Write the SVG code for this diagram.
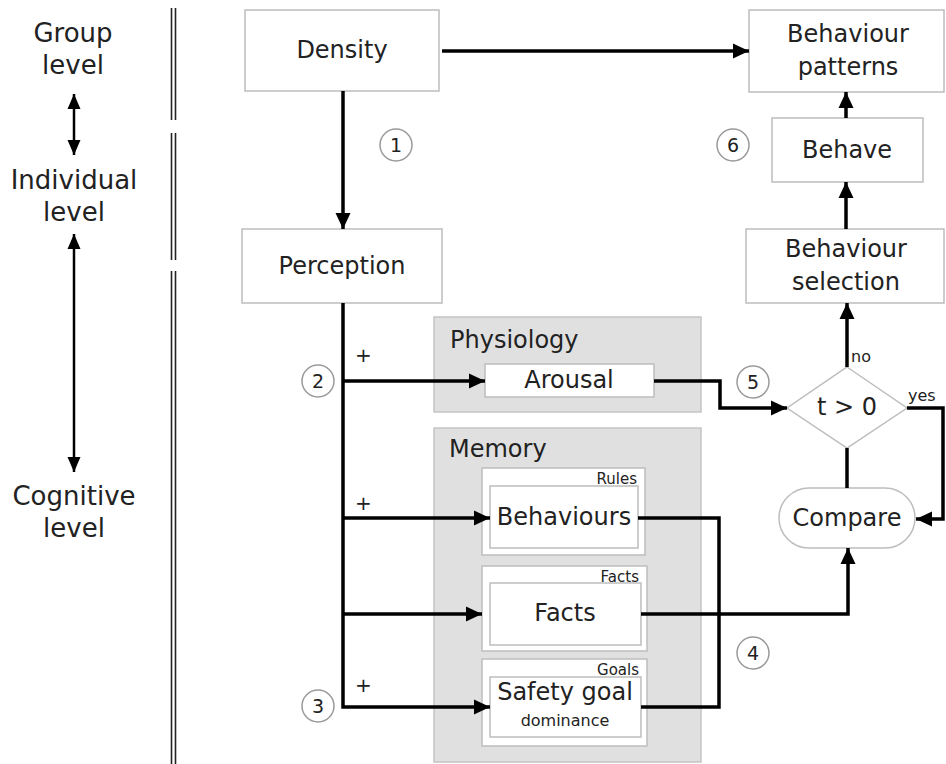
<svg xmlns="http://www.w3.org/2000/svg" width="946" height="764" viewBox="0 0 946 764">
  <style>
    text { font-family: "DejaVu Sans", "Liberation Sans", sans-serif; fill: #222; }
    .lvl { font-size: 26px; text-anchor: middle; }
    .lbl { font-size: 24px; text-anchor: middle; dominant-baseline: central; }
    .small { font-size: 15px; text-anchor: end; }
    .tiny { font-size: 16px; }
    .num { font-size: 19px; text-anchor: middle; dominant-baseline: central; }
    .box { fill: #fff; stroke: #bdbdbd; stroke-width: 1.5; }
    .panel { fill: #e0e0e0; stroke: #c4c4c4; stroke-width: 1.5; }
    .circ { fill: #fff; stroke: #9a9a9a; stroke-width: 1.5; }
    .wire { fill: none; stroke: #000; stroke-width: 3.5; }
    .thin { fill: none; stroke: #000; stroke-width: 2.5; }
    .sep { stroke: #222; stroke-width: 1.6; }
  </style>
  <defs>
    <marker id="arrow" markerUnits="userSpaceOnUse" markerWidth="18" markerHeight="18" refX="16" refY="8.5" orient="auto-start-reverse">
      <path d="M0,1 L16,8.5 L0,16 z" fill="#000"/>
    </marker>
    <marker id="arrowS" markerUnits="userSpaceOnUse" markerWidth="16" markerHeight="16" refX="15" refY="7" orient="auto-start-reverse">
      <path d="M0,0.5 L15,7 L0,13.5 z" fill="#000"/>
    </marker>
  </defs>

  <!-- level scale on the left -->
  <g id="levels">
    <text class="lvl" x="73" y="42">Group</text>
    <text class="lvl" x="73" y="74">level</text>
    <text class="lvl" x="74" y="189">Individual</text>
    <text class="lvl" x="74" y="221">level</text>
    <text class="lvl" x="74" y="505">Cognitive</text>
    <text class="lvl" x="74" y="537">level</text>
    <line class="thin" x1="74" y1="94" x2="74" y2="155" marker-start="url(#arrowS)" marker-end="url(#arrowS)"/>
    <line class="thin" x1="74" y1="234" x2="74" y2="472" marker-start="url(#arrowS)" marker-end="url(#arrowS)"/>
  </g>

  <!-- double separator rule -->
  <g id="separator">
    <line class="sep" x1="171.5" y1="8" x2="171.5" y2="120"/>
    <line class="sep" x1="175.5" y1="8" x2="175.5" y2="120"/>
    <line class="sep" x1="171.5" y1="133" x2="171.5" y2="260"/>
    <line class="sep" x1="175.5" y1="133" x2="175.5" y2="260"/>
    <line class="sep" x1="171.5" y1="271" x2="171.5" y2="764"/>
    <line class="sep" x1="175.5" y1="271" x2="175.5" y2="764"/>
  </g>

  <!-- grey panels -->
  <g id="physiology">
    <rect class="panel" x="434" y="317" width="267" height="95"/>
    <text x="450" y="348" style="font-size:24px">Physiology</text>
  </g>
  <g id="memory">
    <rect class="panel" x="434" y="428" width="267" height="334"/>
    <text x="449" y="457" style="font-size:24px">Memory</text>
  </g>

  <!-- nodes -->
  <g id="density">
    <rect class="box" x="245" y="10" width="194" height="81"/>
    <text class="lbl" x="342" y="50">Density</text>
  </g>
  <g id="perception">
    <rect class="box" x="242" y="229" width="200" height="74"/>
    <text class="lbl" x="342" y="266">Perception</text>
  </g>
  <g id="behaviour-patterns">
    <rect class="box" x="749" y="10" width="195" height="82"/>
    <text class="lbl" x="848" y="34">Behaviour</text>
    <text class="lbl" x="848" y="67">patterns</text>
  </g>
  <g id="behave">
    <rect class="box" x="772" y="118" width="151" height="64"/>
    <text class="lbl" x="847" y="150">Behave</text>
  </g>
  <g id="behaviour-selection">
    <rect class="box" x="746" y="229" width="198" height="74"/>
    <text class="lbl" x="846" y="249">Behaviour</text>
    <text class="lbl" x="846" y="282">selection</text>
  </g>
  <g id="arousal">
    <rect class="box" x="485" y="364" width="169" height="33"/>
    <text class="lbl" x="569" y="380">Arousal</text>
  </g>
  <g id="rules">
    <rect class="box" x="482" y="468" width="163" height="87"/>
    <text class="small" x="637" y="484">Rules</text>
    <rect class="box" x="490" y="486" width="148" height="62"/>
    <text class="lbl" x="564" y="517">Behaviours</text>
  </g>
  <g id="facts">
    <rect class="box" x="482" y="566" width="165" height="85"/>
    <text class="small" x="639" y="582">Facts</text>
    <rect class="box" x="490" y="583" width="151" height="62"/>
    <text class="lbl" x="565" y="613">Facts</text>
  </g>
  <g id="goals">
    <rect class="box" x="482" y="659" width="165" height="87"/>
    <text class="small" x="639" y="675">Goals</text>
    <rect class="box" x="490" y="677" width="151" height="60"/>
    <text class="lbl" x="565" y="692">Safety goal</text>
    <text class="lbl" x="565" y="720" style="font-size:16px">dominance</text>
  </g>
  <g id="decision">
    <polygon class="box" points="847,367 907,408 847,448 787,408"/>
    <text class="lbl" x="847" y="407">t &gt; 0</text>
  </g>
  <g id="compare">
    <rect class="box" x="779" y="488" width="136" height="60" rx="30" ry="30"/>
    <text class="lbl" x="847" y="518">Compare</text>
  </g>

  <!-- numbered step markers -->
  <g id="step-1"><circle class="circ" cx="396" cy="145" r="16"/><text class="num" x="396" y="145">1</text></g>
  <g id="step-2"><circle class="circ" cx="318" cy="381" r="16"/><text class="num" x="318" y="381">2</text></g>
  <g id="step-3"><circle class="circ" cx="318" cy="706" r="16"/><text class="num" x="318" y="706">3</text></g>
  <g id="step-4"><circle class="circ" cx="753" cy="653" r="16"/><text class="num" x="753" y="653">4</text></g>
  <g id="step-5"><circle class="circ" cx="753" cy="382" r="16"/><text class="num" x="753" y="382">5</text></g>
  <g id="step-6"><circle class="circ" cx="733" cy="145" r="16"/><text class="num" x="733" y="145">6</text></g>

  <!-- connectors -->
  <g id="connectors">
    <path class="wire" d="M442,51 H749" marker-end="url(#arrow)"/>
    <path class="wire" d="M343,91 V229" marker-end="url(#arrow)"/>
    <path class="wire" d="M343,303 V707 H490" marker-end="url(#arrow)"/>
    <path class="wire" d="M343,381 H485" marker-end="url(#arrow)"/>
    <path class="wire" d="M343,518 H490" marker-end="url(#arrow)"/>
    <path class="wire" d="M343,614 H482" marker-end="url(#arrow)"/>
    <path class="wire" d="M654,381 H720 V408 H787" marker-end="url(#arrow)"/>
    <path class="wire" d="M638,518 H719 V707 H641"/>
    <path class="wire" d="M641,614 H848 V548" marker-end="url(#arrow)"/>
    <path class="wire" d="M847,448 V488"/>
    <path class="wire" d="M907,408 H943 V519 H916" marker-end="url(#arrow)"/>
    <path class="wire" d="M847,367 V303" marker-end="url(#arrow)"/>
    <path class="wire" d="M846,229 V182" marker-end="url(#arrow)"/>
    <path class="wire" d="M846,118 V92" marker-end="url(#arrow)"/>
    <text class="tiny" x="355" y="362" style="font-size:20px">+</text>
    <text class="tiny" x="355" y="510" style="font-size:20px">+</text>
    <text class="tiny" x="355" y="692" style="font-size:20px">+</text>
    <text class="tiny" x="851" y="362">no</text>
    <text class="tiny" x="908" y="401">yes</text>
  </g>
</svg>
